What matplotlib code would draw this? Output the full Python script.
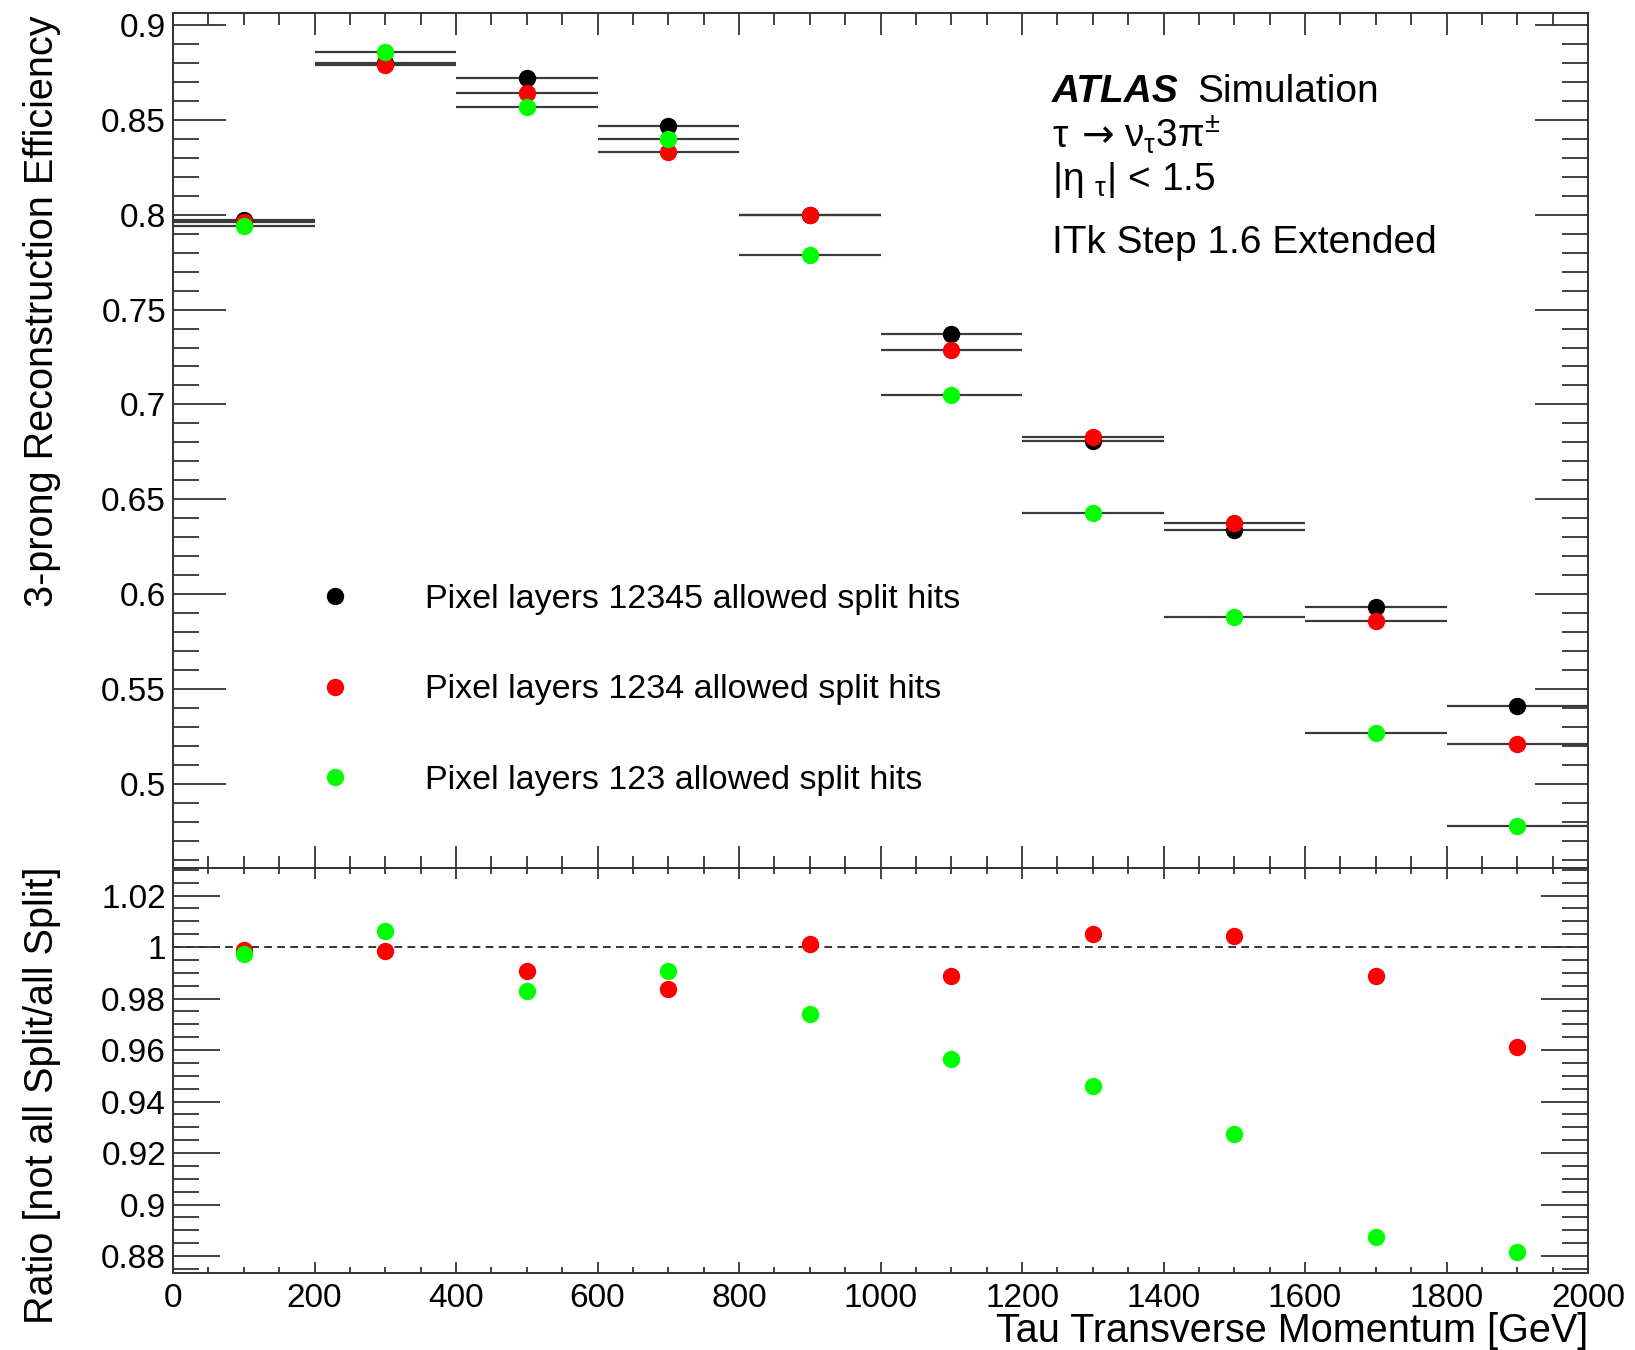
import matplotlib.pyplot as plt
from matplotlib.ticker import MultipleLocator

plt.rcParams['font.family'] = ['Liberation Sans', 'DejaVu Sans']
plt.rcParams['mathtext.fontset'] = 'custom'
plt.rcParams['mathtext.rm'] = 'Liberation Sans'
plt.rcParams['mathtext.it'] = 'Liberation Sans:italic'
plt.rcParams['mathtext.default'] = 'regular'

# tau pT bins (centres, half width) in GeV
pt_centres = [100, 300, 500, 700, 900, 1100, 1300, 1500, 1700, 1900]
pt_halfwidth = [100, 100, 100, 100, 100, 100, 100, 100, 100, 100]

# 3-prong reconstruction efficiency per pixel layer configuration
eff_12345 = [0.797, 0.880, 0.872, 0.847, 0.800, 0.737, 0.681, 0.634, 0.593, 0.541]
eff_1234 = [0.796, 0.879, 0.864, 0.833, 0.800, 0.7285, 0.683, 0.6375, 0.586, 0.521]
eff_123 = [0.794, 0.886, 0.857, 0.840, 0.779, 0.705, 0.643, 0.588, 0.527, 0.478]

# ratios to the "all layers split" configuration
ratio_1234 = [0.999, 0.9984, 0.9906, 0.9837, 1.0012, 0.9886, 1.0049, 1.0041, 0.9886, 0.9613]
ratio_123 = [0.9972, 1.0061, 0.9829, 0.9906, 0.974, 0.9565, 0.9459, 0.9272, 0.8873, 0.8816]

labels = ['Pixel layers 12345 allowed split hits',
          'Pixel layers 1234 allowed split hits',
          'Pixel layers 123 allowed split hits']
colors = ['black', '#ff0000', '#00ff00']

W, H = 1635, 1350
fig = plt.figure(figsize=(W / 100, H / 100), dpi=100)
ax = fig.add_axes([173 / W, 1 - 868 / H, 1415 / W, 855 / H])
ax2 = fig.add_axes([173 / W, 1 - 1273 / H, 1415 / W, 405 / H], sharex=ax)

axis_col = '#333333'
handles = []
for eff, col in zip([eff_12345, eff_1234, eff_123], colors):
    eb = ax.errorbar(pt_centres, eff, xerr=pt_halfwidth, fmt='o', color=col,
                     markersize=12.5, markeredgewidth=0, ecolor='#3a3a3a',
                     elinewidth=1.6, capsize=0)
    handles.append(eb[0])

for r, col in zip([ratio_1234, ratio_123], colors[1:]):
    ax2.plot(pt_centres, r, 'o', color=col, markersize=12.5, markeredgewidth=0)
ax2.axhline(1, color=axis_col, lw=1.4, ls=(0, (4, 2.7)), zorder=0)

ax.set_xlim(0, 2000)
ax.set_ylim(0.4557, 0.9063)
ax2.set_ylim(0.8734, 1.0307)

for a in (ax, ax2):
    a.xaxis.set_major_locator(MultipleLocator(200))
    a.xaxis.set_minor_locator(MultipleLocator(50))
    for s in a.spines.values():
        s.set_linewidth(1.4)
        s.set_color(axis_col)
    a.tick_params(which='both', direction='in', top=True, right=True,
                  width=1.3, color=axis_col, labelsize=24)

ax.yaxis.set_major_locator(MultipleLocator(0.05))
ax.yaxis.set_minor_locator(MultipleLocator(0.01))
ax.tick_params(axis='y', which='major', length=38, pad=5)
ax.tick_params(axis='y', which='minor', length=19)
ax.tick_params(axis='x', which='major', length=16, labelbottom=False)
ax.tick_params(axis='x', which='minor', length=8.5)
ax.set_yticks([0.5, 0.55, 0.6, 0.65, 0.7, 0.75, 0.8, 0.85, 0.9])
ax.set_yticklabels(['0.5', '0.55', '0.6', '0.65', '0.7', '0.75', '0.8', '0.85', '0.9'])

ax2.yaxis.set_major_locator(MultipleLocator(0.02))
ax2.yaxis.set_minor_locator(MultipleLocator(0.005))
ax2.set_yticks([0.88, 0.9, 0.92, 0.94, 0.96, 0.98, 1.0, 1.02])
ax2.set_yticklabels(['0.88', '0.9', '0.92', '0.94', '0.96', '0.98', '1', '1.02'])
ax2.tick_params(axis='y', which='major', length=34, pad=5)
ax2.tick_params(axis='y', which='minor', length=19)
ax2.tick_params(axis='x', which='major', length=8, pad=7)
ax2.tick_params(axis='x', which='minor', length=4.5)

ax.legend(handles, labels, loc='center left', frameon=False, fontsize=24.5,
          bbox_to_anchor=(318 / W, 1 - 690 / H), bbox_transform=fig.transFigure,
          borderpad=0, borderaxespad=0, handlelength=1.0, handletextpad=2.15,
          labelspacing=1.75, markerscale=1.0)

# ATLAS label block
fig.text(1052 / W, 1 - 102 / H, 'ATLAS', fontsize=28, fontweight='bold',
         fontstyle='italic', va='baseline')
fig.text(1197 / W, 1 - 102 / H, 'Simulation', fontsize=28, va='baseline')
fig.text(1052 / W, 1 - 147 / H, 'τ', fontsize=28, va='baseline')
fig.text(1082 / W, 1 - 147 / H, '→', fontsize=28, va='baseline',
         family='DejaVu Sans')
fig.text(1124 / W, 1 - 147 / H, 'ν$_{τ}$3π$^{±}$', fontsize=28, va='baseline')
fig.text(1052 / W, 1 - 190 / H, '|η $_{τ}$| < 1.5', fontsize=28, va='baseline')
fig.text(1052 / W, 1 - 253 / H, 'ITk Step 1.6 Extended', fontsize=28, va='baseline')

fig.text(42 / W, 1 - 15 / H, '3-prong Reconstruction Efficiency', fontsize=28.5,
         rotation=90, ha='center', va='top')
fig.text(42 / W, 1 - 866 / H, 'Ratio [not all Split/all Split]', fontsize=28.5,
         rotation=90, ha='center', va='top')
fig.text(1588 / W, 1 - 1342 / H, 'Tau Transverse Momentum [GeV]', fontsize=28.5,
         ha='right', va='baseline')

fig.savefig('out.png', dpi=100)
